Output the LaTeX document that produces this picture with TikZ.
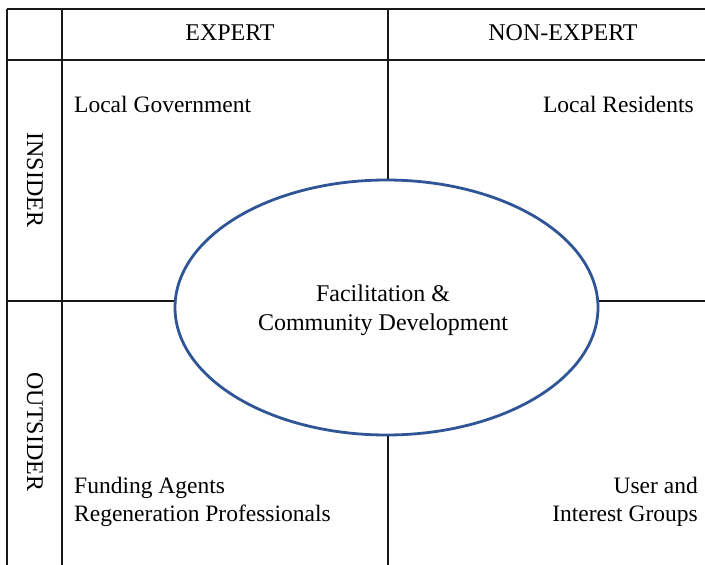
\documentclass[tikz,border=0pt]{standalone}
\usepackage{fontspec}
\setmainfont{Liberation Serif}
\usetikzlibrary{shapes.geometric}
\definecolor{hubblue}{RGB}{47,85,151}
\begin{document}
\begin{tikzpicture}[x=1pt,y=-1pt,
    grid/.style={draw=black!90, line width=1.3pt},
    lbl/.style={font=\fontsize{23.5}{28}\selectfont, inner sep=0pt},
    head/.style={font=\fontsize{24}{28}\selectfont, inner sep=0pt}]
            \useasboundingbox (0,0) rectangle (705,565);
            % frame of the matrix
            \coordinate (tl) at (7,9);
            \coordinate (tr) at (705,9);
            \coordinate (bl) at (7,565);
            \coordinate (hl) at (7,60);
            \coordinate (hr) at (705,60);
            \coordinate (cl) at (62,9);
            \coordinate (cb) at (62,565);
            \coordinate (mt) at (388,9);
            \coordinate (mb) at (388,565);
            \coordinate (ml) at (7,301);
            \coordinate (mr) at (705,301);
            \node [ellipse, draw=hubblue, line width=2.8pt, minimum width=423pt, minimum height=255pt] (hub) at (386.5,307.5) {};
            \node [align=center, inner sep=0pt, font=\fontsize{24}{29}\selectfont] (hubtext) at (383,310) {Facilitation \&\\Community Development};
            \draw [grid] (tl) -- (tr);
            \draw [grid] (hl) -- (hr);
            \draw [grid] (tl) -- (bl);
            \draw [grid] (cl) -- (cb);
            \draw [grid] (mt) -- (mt |- hub.north);
            \draw [grid] (mb |- hub.south) -- (mb);
            \draw [grid] (ml) -- (hub.west |- ml);
            \draw [grid] (hub.east |- mr) -- (mr);
            % headings
            \node [head] (expert) at (230,33) {EXPERT};
            \node [head] (nonexpert) at (563,33) {NON-EXPERT};
            \node [head, rotate=-90] (insider) at (35,180) {INSIDER};
            \node [head, rotate=-90] (outsider) at (35,432) {OUTSIDER};
            % quadrant labels
            \node [lbl, anchor=west] (gov) at (74,104) {Local Government};
            \node [lbl, anchor=east] (res) at (694,104) {Local Residents};
            \node [lbl, anchor=west, align=left] (fund) at (74,502) {Funding Agents\\Regeneration Professionals};
            \node [lbl, anchor=east, align=right] (user) at (698,502) {User and\\Interest Groups};
\end{tikzpicture}
\end{document}
